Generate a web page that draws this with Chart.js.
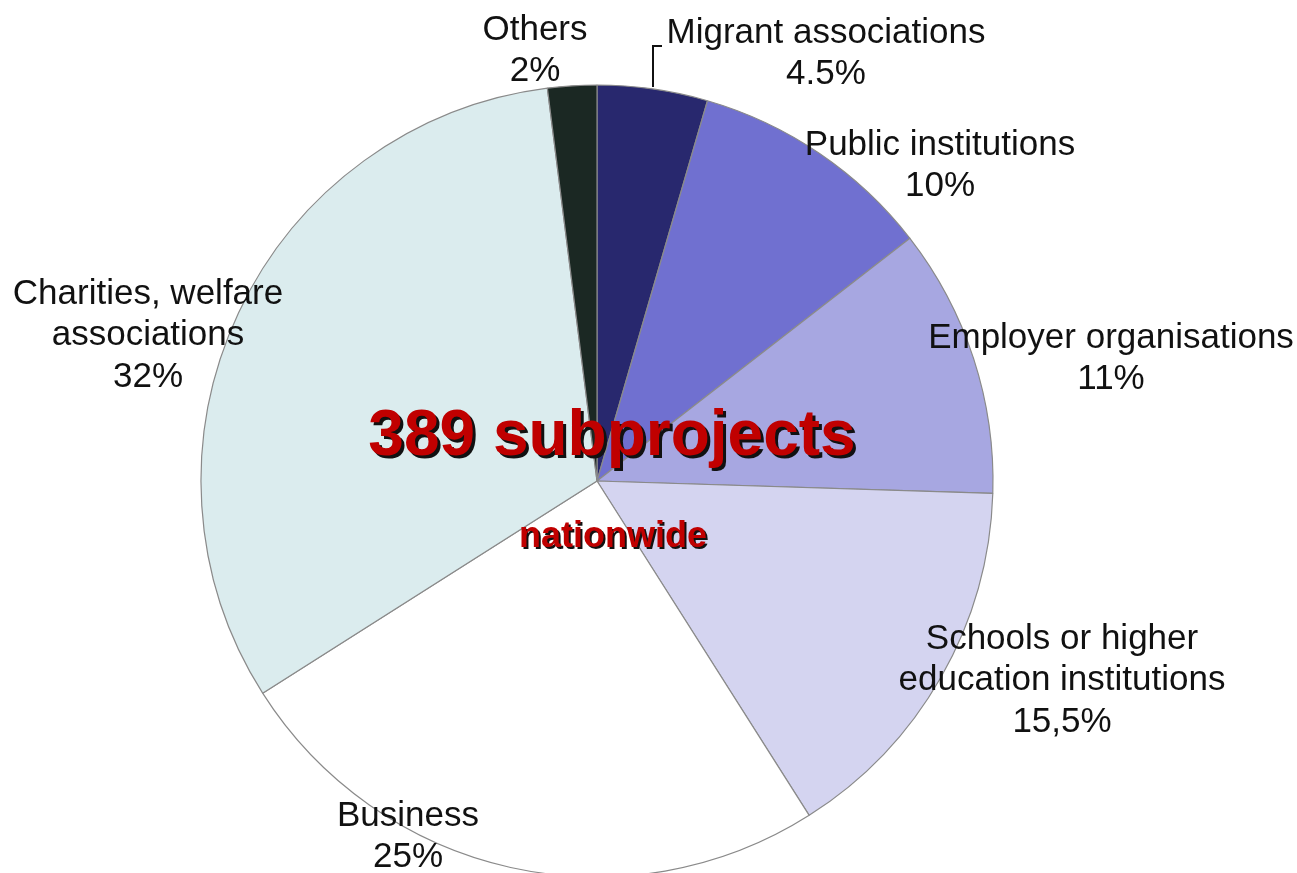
<!DOCTYPE html>
<html>
<head>
<meta charset="utf-8">
<script src="https://cdn.jsdelivr.net/npm/chart.js@4.4.1/dist/chart.umd.min.js"></script>
<style>
  html, body { margin: 0; padding: 0; background: #fff; overflow: hidden; }
  #wrap { position: relative; width: 1297px; height: 920px; }
</style>
</head>
<body>
<div id="wrap"><canvas id="pie" width="1297" height="920"></canvas></div>
<script>
// Subproject partners (share of subprojects, %)
const categories = [
  ['Migrant associations'],
  ['Public institutions'],
  ['Employer organisations'],
  ['Schools or higher', 'education institutions'],
  ['Business'],
  ['Charities, welfare', 'associations'],
  ['Others']
];
const shares = [4.5, 10, 11, 15.5, 25, 32, 2];
const shareLabels = ['4.5%', '10%', '11%', '15,5%', '25%', '32%', '2%'];

const sliceColors = ['#28286e', '#7070d0', '#a7a7e1', '#d4d4f0', '#ffffff', '#dbecee', '#1b2823'];

// label anchors (centre of first line)
const labelPos = [
  [826, 33], [940, 145], [1111, 338], [1062, 639], [408, 816], [148, 294], [535, 30]
];

const labelPlugin = {
  id: 'sliceLabels',
  afterDraw(chart) {
    const ctx = chart.ctx;
    const lineH = 41.5;
    ctx.save();
    ctx.font = '35px "Liberation Sans", Arial, sans-serif';
    ctx.fillStyle = '#111';
    ctx.textAlign = 'center';
    ctx.textBaseline = 'middle';
    categories.forEach((lines, i) => {
      const [x, y] = labelPos[i];
      lines.concat(shareLabels[i]).forEach((t, j) => ctx.fillText(t, x, y + j * lineH));
    });

    // leader line for the small migrant slice
    ctx.strokeStyle = '#111';
    ctx.lineWidth = 2;
    ctx.beginPath();
    ctx.moveTo(653, 87);
    ctx.lineTo(653, 46);
    ctx.lineTo(662, 46);
    ctx.stroke();

    // centre caption
    ctx.fillStyle = '#c00000';
    ctx.shadowColor = '#111';
    ctx.shadowBlur = 0;
    ctx.shadowOffsetX = 3;
    ctx.shadowOffsetY = 3;
    ctx.textBaseline = 'alphabetic';
    ctx.font = 'bold 64px "Liberation Sans", Arial, sans-serif';
    ctx.fillText('389 subprojects', 612, 455);
    ctx.shadowOffsetX = 2;
    ctx.shadowOffsetY = 2;
    ctx.font = 'bold 36px "Liberation Sans", Arial, sans-serif';
    ctx.fillText('nationwide', 613, 547);
    ctx.restore();
  }
};

new Chart(document.getElementById('pie'), {
  type: 'pie',
  data: {
    labels: categories.map(c => c.join(' ')),
    datasets: [{
      data: shares,
      backgroundColor: sliceColors,
      borderColor: '#8a8a8a',
      borderWidth: 1.2,
      radius: 396
    }]
  },
  options: {
    responsive: false,
    animation: false,
    layout: { padding: { left: 201, right: 304, top: 85, bottom: 43 } },
    plugins: {
      legend: { display: false },
      tooltip: { enabled: false }
    }
  },
  plugins: [labelPlugin]
});
</script>
</body>
</html>
